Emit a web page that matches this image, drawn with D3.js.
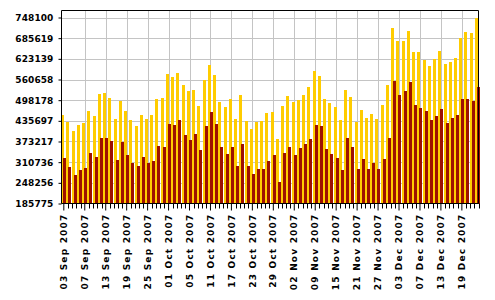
<!DOCTYPE html>
<html>
<head>
<meta charset="utf-8">
<script src="https://cdn.jsdelivr.net/npm/d3@7"></script>
<style>
    body { margin: 0; background: #fff; }
    svg text { font-family: "DejaVu Sans", Verdana, sans-serif; font-weight: bold; font-size: 9px; fill: #000; }
</style>
</head>
<body>
<svg id="chart" width="495" height="300"></svg>
<script>
// weekdays shown on the chart, by month
var sepDays = ["03","04","05","06","07","10","11","12","13","14","17","18","19","20","21","24","25","26","27","28"];
var octDays = ["01","02","03","04","05","08","09","10","11","12","15","16","17","18","19","22","23","24","25","26","29","30","31"];
var novDays = ["01","02","05","07","08","09","12","13","14","15","16","19","20","21","22","23","26","27","28","29","30"];
var decDays = ["03","04","05","06","07","10","11","12","13","14","17","18","19","20","21","24"];

var tickLabels = ["03 Sep 2007", "07 Sep 2007", "13 Sep 2007", "19 Sep 2007", "25 Sep 2007",
    "01 Oct 2007", "05 Oct 2007", "11 Oct 2007", "17 Oct 2007", "23 Oct 2007", "29 Oct 2007",
    "02 Nov 2007", "09 Nov 2007", "15 Nov 2007", "21 Nov 2007", "27 Nov 2007",
    "03 Dec 2007", "07 Dec 2007", "13 Dec 2007", "19 Dec 2007"];

var yTicks = [185775, 248256, 310736, 373217, 435697, 498178, 560658, 623139, 685619, 748100];

var seriesA = [454400, 433200, 406100, 424200, 430200, 466400, 451300, 517700, 520800, 505700,
    442300, 496600, 466400, 439300, 421200, 454400, 442300, 454400, 502600, 505700,
    578100, 569000, 581100, 544900, 526800, 529800, 481500, 560000, 605300, 575100,
    493600, 478500, 502600, 442300, 514700, 436300, 412100, 433200, 436300, 460400,
    463400, 381900, 481500, 511700, 493600, 499600, 514700, 538900, 587100, 572100,
    502600, 490600, 478500, 439300, 529800, 508700, 433200, 469500, 445300, 457400,
    442300, 484500, 544900, 716900, 677700, 677700, 707900, 644500, 644500, 620300,
    602200, 623400, 647500, 608300, 614300, 626400, 686700, 704800, 701800, 748100];

var seriesB = [324600, 297400, 273300, 288400, 294400, 339700, 327600, 385000, 385000, 375900,
    318600, 372900, 333700, 309500, 300500, 327600, 309500, 315500, 360800, 357800,
    427200, 424200, 439300, 394000, 378900, 397000, 348700, 421200, 463400, 427200,
    357800, 336700, 357800, 300500, 366800, 300500, 276300, 291400, 291400, 315500,
    333700, 252200, 339700, 357800, 333700, 354800, 366800, 381900, 424200, 421200,
    351800, 336700, 324600, 288400, 385000, 357800, 291400, 321600, 291400, 309500,
    291400, 321600, 385000, 557000, 514700, 526800, 554000, 484500, 475500, 466400,
    439300, 451300, 472500, 430200, 445300, 454400, 502600, 502600, 496600, 538900];

(function () {
    var dates = []
        .concat(sepDays.map(function (d) { return d + " Sep 2007"; }))
        .concat(octDays.map(function (d) { return d + " Oct 2007"; }))
        .concat(novDays.map(function (d) { return d + " Nov 2007"; }))
        .concat(decDays.map(function (d) { return d + " Dec 2007"; }));

    var data = dates.map(function (d, i) {
        return { date: d, a: seriesA[i], b: seriesB[i] };
    });

    var svg = d3.select("#chart"),
        left = 61.5, right = 478.5, plotTop = 10.5, bottom = 203.5;

    var x = d3.scaleBand()
        .domain(dates)
        .range([61.2, 480.2]);

    var y = d3.scaleLinear()
        .domain([185775, 748100])
        .range([bottom, 17.5]);

    var g = svg.append("g");

    // grid
    g.selectAll(".hgrid")
        .data(yTicks.slice(1))
        .enter().append("line")
        .attr("x1", left).attr("x2", right)
        .attr("y1", function (d) { return Math.round(y(d)) + 0.5; })
        .attr("y2", function (d) { return Math.round(y(d)) + 0.5; })
        .attr("stroke", "#c4c4c4");

    g.selectAll(".vgrid")
        .data(tickLabels.slice(1))
        .enter().append("line")
        .attr("x1", function (d) { return Math.round(x(d) + x.bandwidth() / 2) + 0.5; })
        .attr("x2", function (d) { return Math.round(x(d) + x.bandwidth() / 2) + 0.5; })
        .attr("y1", plotTop).attr("y2", bottom)
        .attr("stroke", "#c4c4c4");

    // bars
    var bars = g.selectAll(".day")
        .data(data)
        .enter().append("g")
        .attr("class", "day")
        .attr("shape-rendering", "crispEdges");

    bars.append("rect")
        .attr("x", function (d) { return x(d.date); })
        .attr("width", 3)
        .attr("y", function (d) { return y(d.a); })
        .attr("height", function (d) { return bottom - y(d.a); })
        .attr("fill", "#ffcc00");

    bars.append("rect")
        .attr("x", function (d) { return x(d.date) + 2; })
        .attr("width", 3)
        .attr("y", function (d) { return y(d.b); })
        .attr("height", function (d) { return bottom - y(d.b); })
        .attr("fill", "#9e1100");

    // frame
    g.append("path")
        .attr("d", "M" + left + "," + bottom + "V" + plotTop + "H" + right + "V" + bottom)
        .attr("fill", "none")
        .attr("stroke", "#000");

    // y axis
    var yAxis = svg.append("g")
        .attr("transform", "translate(" + left + ",0)")
        .call(d3.axisLeft(y).tickValues(yTicks).tickSize(3).tickPadding(5).tickFormat(d3.format("d")));
    yAxis.select(".domain").remove();
    yAxis.selectAll("text").attr("letter-spacing", "0.1px");

    // x axis with minor ticks
    var xAxis = svg.append("g")
        .attr("transform", "translate(0," + bottom + ")")
        .call(d3.axisBottom(x).tickValues(tickLabels).tickSize(7).tickSizeOuter(0));
    xAxis.select(".domain").attr("d", "M" + left + ",0H" + right);
    xAxis.selectAll("text")
        .attr("transform", "rotate(-90)")
        .attr("x", -10)
        .attr("y", 0)
        .attr("dy", "0.35em")
        .attr("letter-spacing", "1.2px")
        .style("text-anchor", "end");

    var step = x.step() * 4 / 5;
    var minor = [];
    tickLabels.forEach(function (t) {
        var x0 = x(t) + x.bandwidth() / 2;
        for (var k = 1; k < 5; k++) minor.push(x0 + k * step);
    });
    xAxis.selectAll(".minor")
        .data(minor.filter(function (m) { return m <= right + 1; }))
        .enter().append("line")
        .attr("x1", function (d) { return Math.round(d) + 0.5; })
        .attr("x2", function (d) { return Math.round(d) + 0.5; })
        .attr("y1", 0).attr("y2", 5)
        .attr("stroke", "#000");
})();
</script>
</body>
</html>
